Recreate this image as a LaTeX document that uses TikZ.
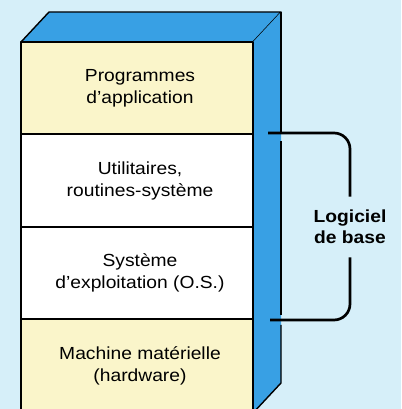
\documentclass[tikz,border=0pt]{standalone}
\usepackage{fontspec}
\setmainfont{Liberation Sans}[FakeStretch=1.1]
\usetikzlibrary{positioning}
\definecolor{bgcyan}{RGB}{214,239,249}
\definecolor{sideblue}{RGB}{56,160,228}
\definecolor{layeryellow}{RGB}{250,245,202}

\begin{document}
\begin{tikzpicture}[x=1pt, y=1pt, line join=round,
    edge/.style={draw=black, line width=1.4pt},
    layertext/.style={align=center, font=\fontsize{17.5}{22}\selectfont},
    bracketline/.style={line width=2.7pt, rounded corners=16pt}]
  % Background
  \fill[bgcyan] (0,0) rectangle (401,409);
  \useasboundingbox (0,0) rectangle (401,409);
  \clip (0,0) rectangle (401,409);

  % Top face and right side of the block
  \filldraw[edge, fill=sideblue] (21,367) -- (49,397) -- (281,397) -- (253,367) -- cycle;
  \fill[sideblue] (253,367) -- (281,397) -- (281,26) -- (253,-4) -- cycle;
  \draw[edge] (281,397) -- (281,276);
  \draw[edge] (281,268) -- (281,94);
  \draw[edge] (281,84) -- (281,26) -- (253,-4);

  % Layers (front face)
  \filldraw[edge, fill=layeryellow] (21,275) rectangle (253,367);
  \filldraw[edge, fill=white] (21,182) rectangle (253,275);
  \filldraw[edge, fill=white] (21,90) rectangle (253,182);
  \filldraw[edge, fill=layeryellow] (21,-5) rectangle (253,90);

  \node[layertext] (prog) at (140,321) {Programmes\\d’application};
  \node[layertext] (util) at (140,228) {Utilitaires,\\routines-système};
  \node[layertext] (os) at (140,136) {Système\\d’exploitation (O.S.)};
  \node[layertext] (hw) at (140,43) {Machine matérielle\\(hardware)};

  % Bracket round the base software
  \node[align=center, font=\bfseries\fontsize{17.5}{21}\selectfont] (logiciel) at (350,182) {Logiciel\\de base};
  \coordinate (btop) at (268,276);
  \coordinate (bbot) at (270,89);
  \draw[bracketline] (btop) -| ([yshift=10pt]logiciel.north);
  \draw[bracketline] ([yshift=-10pt]logiciel.south) |- (bbot);
\end{tikzpicture}
\end{document}
